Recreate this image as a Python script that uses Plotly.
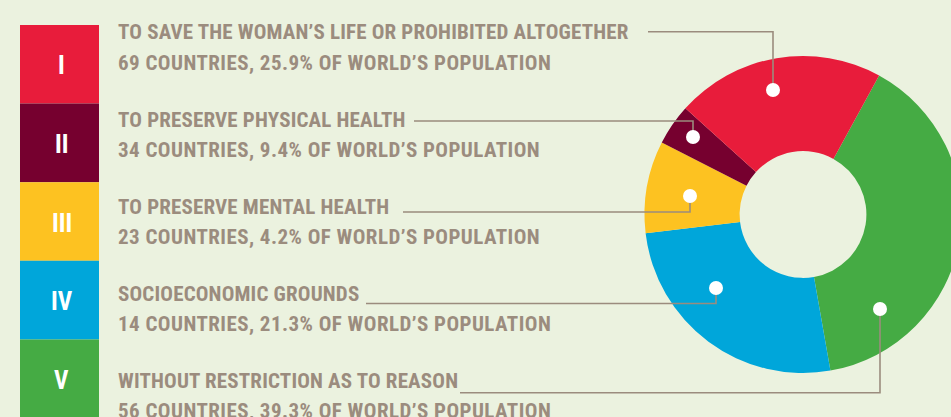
import plotly.graph_objects as go

# ---------------- data ----------------
numerals = ["I", "II", "III", "IV", "V"]
headings = [
    "TO SAVE THE WOMAN’S LIFE OR PROHIBITED ALTOGETHER",
    "TO PRESERVE PHYSICAL HEALTH",
    "TO PRESERVE MENTAL HEALTH",
    "SOCIOECONOMIC GROUNDS",
    "WITHOUT RESTRICTION AS TO REASON",
]
countries = [69, 34, 23, 14, 56]
population_pct = [25.9, 9.4, 4.2, 21.3, 39.3]
# slice sizes as drawn in the donut, per category I..V
slice_pct = [21.3, 4.2, 9.4, 25.9, 39.3]
colors = ["#e81c3b", "#76002f", "#fdc221", "#00a6da", "#45ab44"]

# ---------------- layout helpers ----------------
W, H = 962, 417          # page window is 951 wide: the donut is cut at the right edge
BG = "#ebf2df"
TXT = "#9b8c7e"
FONT = "Roboto Condensed, DejaVu Sans Condensed, sans-serif"


def px(x):
    return x / W


def py(y):
    return 1 - y / H


def spaced(text, ls):
    return f"<span style='letter-spacing:{ls}px'>{text}</span>"


fig = go.Figure()

# donut: clockwise from V back to I
fig.add_trace(go.Pie(
    values=slice_pct[::-1],
    labels=numerals[::-1],
    marker=dict(colors=colors[::-1], line=dict(width=0)),
    hole=0.40,
    sort=False,
    direction="clockwise",
    rotation=28.7,
    textinfo="none",
    hoverinfo="skip",
    showlegend=False,
    domain=dict(x=[px(644.5), px(961.5)], y=[py(373), py(56)]),
))

shapes = []
annotations = []

# legend swatches
box_x0, box_x1, box_top, box_h = 20, 99, 25, 78.6
for i, (num, col) in enumerate(zip(numerals, colors)):
    y0 = box_top + i * box_h
    y1 = y0 + box_h if i < len(numerals) - 1 else H + 5
    shapes.append(dict(type="rect", xref="paper", yref="paper",
                       x0=px(box_x0), x1=px(box_x1), y0=py(y1), y1=py(y0),
                       fillcolor=col, line=dict(width=0), layer="below"))
    annotations.append(dict(text=num, xref="paper", yref="paper",
                            x=px(61.7), y=py(box_top + i * box_h + box_h / 2 + 1.5),
                            xanchor="center", yanchor="middle", showarrow=False,
                            font=dict(family=FONT, size=25, color="white", weight="bold")))

# text labels
for i in range(5):
    yc = 32.5 + 87.1 * i
    annotations.append(dict(text=spaced(headings[i], 0.17), xref="paper", yref="paper",
                            x=px(115.5), y=py(yc), xanchor="left", yanchor="middle",
                            showarrow=False,
                            font=dict(family=FONT, size=21, color=TXT, weight="bold")))
    detail = f"{countries[i]} COUNTRIES, {population_pct[i]}% OF WORLD’S POPULATION"
    annotations.append(dict(text=spaced(detail, 0.45),
                            xref="paper", yref="paper",
                            x=px(115.5), y=py(yc + 30.5), xanchor="left", yanchor="middle",
                            showarrow=False,
                            font=dict(family=FONT, size=21, color=TXT, weight="bold")))

# leader lines: (start x, line y, corner x, dot y)
leaders = [
    (648, 31.7, 773, 90),
    (414, 121, 693, 137),
    (403, 212, 690, 196),
    (366, 303.5, 716, 288),
    (460, 392.7, 880, 309),
]
for x0, yl, xc, yd in leaders:
    shapes.append(dict(type="path", xref="paper", yref="paper",
                       path=f"M {px(x0)},{py(yl)} L {px(xc)},{py(yl)} L {px(xc)},{py(yd)}",
                       line=dict(color=TXT, width=1.6)))
    r = 7
    shapes.append(dict(type="circle", xref="paper", yref="paper",
                       x0=px(xc - r), x1=px(xc + r), y0=py(yd + r), y1=py(yd - r),
                       fillcolor="white", line=dict(width=0)))

fig.update_layout(
    width=W, height=H,
    margin=dict(l=0, r=0, t=0, b=0),
    paper_bgcolor=BG, plot_bgcolor=BG,
    shapes=shapes, annotations=annotations,
    showlegend=False,
)

fig.write_html(
    "out.html",
    config={"displayModeBar": False},
    post_script="document.body.style.margin='0';document.body.style.overflow='hidden';",
)
